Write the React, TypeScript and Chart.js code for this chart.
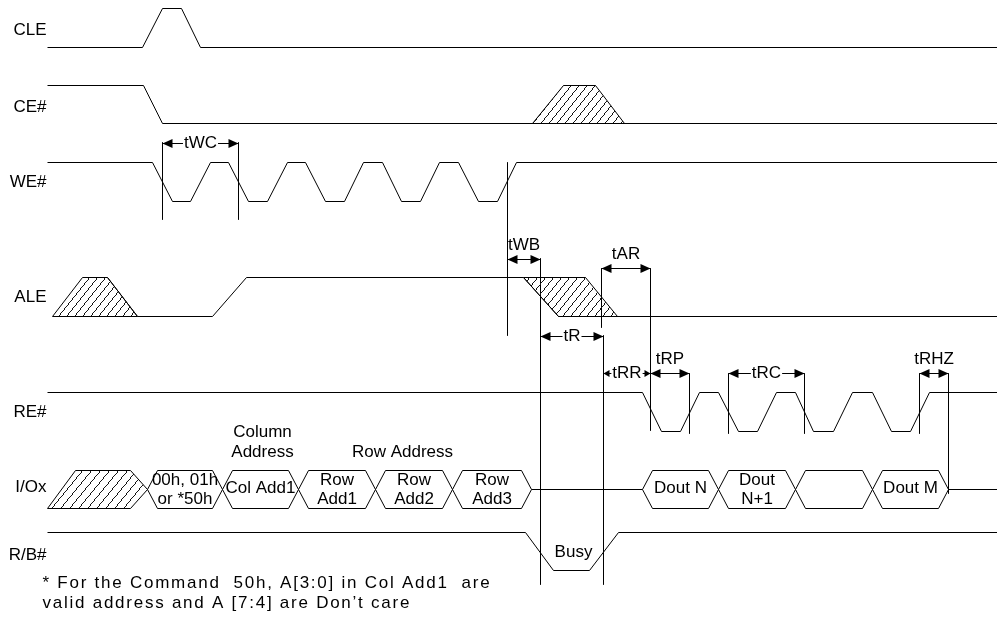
import React, { useEffect, useRef } from 'react';
import { Chart, registerables } from 'chart.js';

Chart.register(...registerables);

// ---------------- data (time axis units, levels: 1 high, 0 low, 0.5 float) ----------------
const SIGNAL_NAMES = ['CLE', 'CE#', 'WE#', 'ALE', 'RE#', 'I/Ox', 'R/B#'];

const CLE_TIMES = [47, 142, 162, 181, 200, 997];
const CLE_LEVELS = [0, 0, 1, 1, 0, 0];

const CE_TIMES = [47, 143, 162, 997];
const CE_LEVELS = [1, 1, 0, 0];
const CE_DONTCARE_TIMES = [532, 563, 595, 624, 532];
const CE_DONTCARE_LEVELS = [0, 1, 1, 0, 0];

const WE_TIMES = [47, 152, 172, 190, 210, 228, 248, 267, 287, 305, 325, 344, 363, 382, 401, 420, 439, 458, 478, 497, 516, 997];
const WE_LEVELS = [1, 1, 0, 0, 1, 1, 0, 0, 1, 1, 0, 0, 1, 1, 0, 0, 1, 1, 0, 0, 1, 1];

const ALE_TIMES = [107, 137, 212, 246, 523, 558, 997];
const ALE_LEVELS = [1, 0, 0, 1, 1, 0, 0];
const ALE_DONTCARE1_TIMES = [52, 82, 107, 137, 52];
const ALE_DONTCARE1_LEVELS = [0, 1, 1, 0, 0];
const ALE_DONTCARE2_TIMES = [523, 585, 617, 558, 523];
const ALE_DONTCARE2_LEVELS = [1, 1, 0, 0, 1];

const RE_TIMES = [47, 642, 661, 680, 699, 718, 738, 757, 776, 795, 813, 833, 852, 872, 891, 910, 929, 997];
const RE_LEVELS = [1, 1, 0, 0, 1, 1, 0, 0, 1, 1, 0, 0, 1, 1, 0, 0, 1, 1];

const IO_DONTCARE_TIMES = [47, 75, 130, 147, 130, 47];
const IO_DONTCARE_LEVELS = [0, 1, 1, 0.5, 0, 0];
const IO_BUS_EDGES_WRITE = [147, 222, 298, 375, 452, 531];
const IO_BUS_EDGES_READ = [642, 718, 795, 872, 948];
const IO_BUS_WRITE_TEXT = [['00h, 01h', 'or *50h'], ['Col Add1'], ['Row', 'Add1'], ['Row', 'Add2'], ['Row', 'Add3']];
const IO_BUS_READ_TEXT = [['Dout N'], ['Dout', 'N+1'], [], ['Dout M']];
const IO_FLOAT_START = [531, 948];
const IO_FLOAT_END = [642, 997];

const RB_TIMES = [47, 525, 553, 589, 618, 997];
const RB_LEVELS = [1, 1, 0, 0, 1, 1];

const TIMING_NAMES = ['tWC', 'tWB', 'tAR', 'tR', 'tRR', 'tRP', 'tRC', 'tRHZ'];
const TIMING_START = [162, 507, 601, 540, 603, 650, 728, 919];
const TIMING_END = [238, 540, 650, 603, 650, 689, 804, 948];

const MARKER_TIMES = [162, 238, 507, 540, 601, 603, 650, 689, 728, 804, 919, 948];

const NOTE_TEXT = ['Column', 'Address', 'Row Address', 'Busy'];
const FOOTNOTE = ['* For the Command  50h, A[3:0] in Col Add1  are', 'valid address and A [7:4] are Don\u2019t care'];

// ---------------- layout / style ----------------
const W = 997;
const H = 626;
const LANE_HIGH_Y = [8, 85, 162, 277, 392, 470, 532];
const LANE_LOW_Y = [47, 123, 201, 316, 431, 508, 570];
const LABEL_Y = [30, 107, 182, 297, 412, 487, 555];
const LABEL_RIGHT = 46;
const BUS_SLOPE = 10;
const TIMING_ROW_Y = [143, 259, 268, 336, 373, 373, 373, 373];
const TIMING_LABEL_ABOVE = [false, true, true, false, false, true, false, true];
const TIMING_SMALL_HEAD = [false, false, false, false, true, false, false, false];
const MARKER_TOP = [142, 142, 162, 258, 268, 335, 268, 373, 373, 373, 373, 373];
const MARKER_BOTTOM = [219, 219, 335, 584, 327, 584, 430, 433, 433, 433, 433, 493];
const NOTE_X = [262, 262, 402, 573];
const NOTE_Y = [432, 452, 452, 552];
const FOOT_X = 42;
const FOOT_Y = [583, 603];
const FONT = "17px 'Liberation Sans', Arial, sans-serif";
const INK = '#000';

const lane = (i: number, lvl: number) => LANE_LOW_Y[i] - lvl * (LANE_LOW_Y[i] - LANE_HIGH_Y[i]);
const wave = (i: number, t: number[], l: number[]) => t.map((x, k) => ({ x, y: lane(i, l[k]) }));

// crisp 1px diagonal hatch ("/") tile
function makeHatch(w: number, h: number) {
  const c = document.createElement('canvas');
  c.width = w;
  c.height = h;
  const g = c.getContext('2d')!;
  const img = g.createImageData(w, h);
  for (let r = 0; r < h; r++) {
    const x = Math.floor(((h - 1 - r) * w) / h);
    const idx = (r * w + x) * 4;
    img.data[idx] = 20;
    img.data[idx + 1] = 20;
    img.data[idx + 2] = 20;
    img.data[idx + 3] = 255;
  }
  g.putImageData(img, 0, 0);
  return g.createPattern(c, 'repeat');
}

function busHexagons(i: number, edges: number[]) {
  const out: { x: number; y: number }[][] = [];
  for (let k = 0; k < edges.length - 1; k++) {
    const a = edges[k];
    const b = edges[k + 1];
    out.push([
      { x: a, y: lane(i, 0.5) },
      { x: a + BUS_SLOPE, y: lane(i, 1) },
      { x: b - BUS_SLOPE, y: lane(i, 1) },
      { x: b, y: lane(i, 0.5) },
      { x: b - BUS_SLOPE, y: lane(i, 0) },
      { x: a + BUS_SLOPE, y: lane(i, 0) },
      { x: a, y: lane(i, 0.5) },
    ]);
  }
  return out;
}

function buildDatasets(hatchA: any, hatchB: any) {
  const ds: any[] = [];
  const line = (data: any[], extra: any = {}) =>
    ds.push({
      data,
      borderColor: INK,
      borderWidth: 1,
      pointRadius: 0,
      tension: 0,
      fill: false,
      clip: false,
      ...extra,
    });
  const shape = (data: any[], pattern: any) => line(data, { fill: 'shape', backgroundColor: pattern });

  line(wave(0, CLE_TIMES, CLE_LEVELS));
  line(wave(1, CE_TIMES, CE_LEVELS));
  shape(wave(1, CE_DONTCARE_TIMES, CE_DONTCARE_LEVELS), hatchA);
  line(wave(2, WE_TIMES, WE_LEVELS));
  line(wave(3, ALE_TIMES, ALE_LEVELS));
  shape(wave(3, ALE_DONTCARE1_TIMES, ALE_DONTCARE1_LEVELS), hatchA);
  shape(wave(3, ALE_DONTCARE2_TIMES, ALE_DONTCARE2_LEVELS), hatchA);
  line(wave(4, RE_TIMES, RE_LEVELS));
  shape(wave(5, IO_DONTCARE_TIMES, IO_DONTCARE_LEVELS), hatchB);
  busHexagons(5, IO_BUS_EDGES_WRITE).forEach((h) => line(h));
  busHexagons(5, IO_BUS_EDGES_READ).forEach((h) => line(h));
  IO_FLOAT_START.forEach((s, k) => line([{ x: s, y: lane(5, 0.5) }, { x: IO_FLOAT_END[k], y: lane(5, 0.5) }]));
  line(wave(6, RB_TIMES, RB_LEVELS));
  MARKER_TIMES.forEach((t, k) => line([{ x: t, y: MARKER_TOP[k] }, { x: t, y: MARKER_BOTTOM[k] }]));
  return ds;
}

function head(ctx: CanvasRenderingContext2D, x: number, y: number, dir: number, len: number, half: number) {
  ctx.beginPath();
  ctx.moveTo(x, y);
  ctx.lineTo(x - dir * len, y - half);
  ctx.lineTo(x - dir * len, y + half);
  ctx.closePath();
  ctx.fill();
}

const annotationPlugin = {
  id: 'timingAnnotations',
  afterDatasetsDraw(chart: any) {
    const ctx: any = chart.ctx;
    const xs = chart.scales.x;
    const ys = chart.scales.y;
    const px = (v: number) => xs.getPixelForValue(v);
    const py = (v: number) => ys.getPixelForValue(v);
    ctx.save();
    ctx.font = FONT;
    ctx.fillStyle = INK;
    ctx.strokeStyle = INK;
    ctx.lineWidth = 1;
    ctx.textBaseline = 'middle';

    // signal names
    ctx.textAlign = 'right';
    SIGNAL_NAMES.forEach((n, i) => ctx.fillText(n, px(LABEL_RIGHT), py(LABEL_Y[i])));

    // bus texts
    ctx.textAlign = 'center';
    const busText = (edges: number[], texts: string[][]) => {
      texts.forEach((lines, k) => {
        const cx = px((edges[k] + edges[k + 1]) / 2);
        const mid = (LANE_HIGH_Y[5] + LANE_LOW_Y[5]) / 2;
        if (lines.length === 1) ctx.fillText(lines[0], cx, py(mid - 1));
        else if (lines.length === 2) {
          ctx.fillText(lines[0], cx, py(mid - 9));
          ctx.fillText(lines[1], cx, py(mid + 10));
        }
      });
    };
    busText(IO_BUS_EDGES_WRITE, IO_BUS_WRITE_TEXT);
    busText(IO_BUS_EDGES_READ, IO_BUS_READ_TEXT);

    // notes
    NOTE_TEXT.forEach((t, k) => ctx.fillText(t, px(NOTE_X[k]), py(NOTE_Y[k])));

    // footnote (spread lettering as in the source)
    ctx.textAlign = 'left';
    ctx.letterSpacing = '1.75px';
    FOOTNOTE.forEach((t, k) => ctx.fillText(t, px(FOOT_X), py(FOOT_Y[k])));
    ctx.letterSpacing = '0px';

    // timing arrows
    TIMING_NAMES.forEach((name, k) => {
      const x1 = px(TIMING_START[k]);
      const x2 = px(TIMING_END[k]);
      const y = py(TIMING_ROW_Y[k]);
      const small = TIMING_SMALL_HEAD[k];
      const len = small ? 6 : 10;
      const half = small ? 3.5 : 4.5;
      ctx.beginPath();
      ctx.moveTo(x1, y);
      ctx.lineTo(x2, y);
      ctx.stroke();
      head(ctx, x1, y, -1, len, half);
      head(ctx, x2, y, 1, len, half);
      const cx = (x1 + x2) / 2;
      ctx.textAlign = 'center';
      if (TIMING_LABEL_ABOVE[k]) {
        ctx.fillText(name, cx, y - 14);
      } else {
        const tw = ctx.measureText(name).width;
        ctx.fillStyle = '#fff';
        ctx.fillRect(cx - tw / 2 - 1, y - 3, tw + 2, 6);
        ctx.fillStyle = INK;
        ctx.fillText(name, cx, y);
      }
    });
    ctx.restore();
  },
};

export default function App() {
  const ref = useRef<HTMLCanvasElement | null>(null);
  useEffect(() => {
    document.body.style.margin = '0';
    const canvas = ref.current;
    if (!canvas) return;
    const chart = new Chart(canvas, {
      type: 'line',
      data: { datasets: buildDatasets(makeHatch(8, 10), makeHatch(9, 11)) },
      options: {
        responsive: false,
        maintainAspectRatio: false,
        animation: false,
        events: [],
        devicePixelRatio: 1,
        layout: { padding: 0 },
        plugins: {
          legend: { display: false },
          tooltip: { enabled: false },
          title: { display: false },
        },
        scales: {
          x: { type: 'linear', min: -0.5, max: W - 0.5, display: false },
          y: { type: 'linear', min: -0.5, max: H - 0.5, reverse: true, display: false },
        },
      },
      plugins: [annotationPlugin],
    } as any);
    return () => chart.destroy();
  }, []);
  return (
    <div style={{ width: W, height: H, background: '#fff' }}>
      <canvas ref={ref} width={W} height={H} style={{ display: 'block' }} />
    </div>
  );
}
